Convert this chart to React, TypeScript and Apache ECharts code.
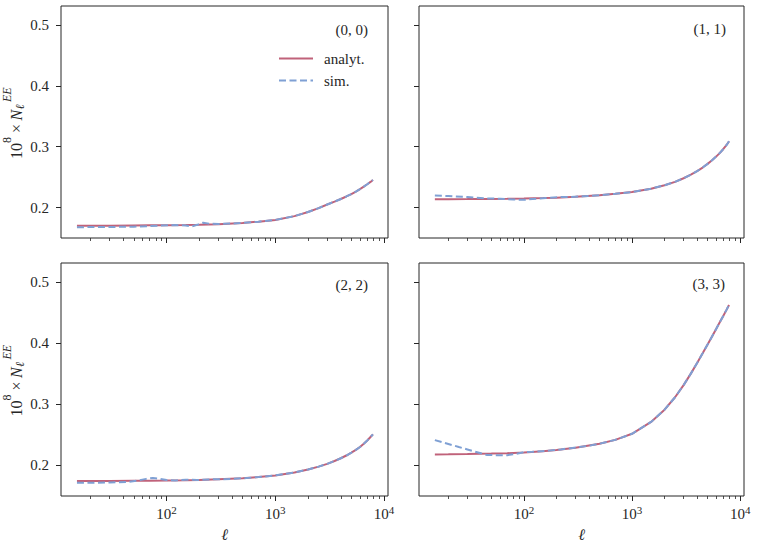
import React, { useEffect, useRef } from "react";
import * as echarts from "echarts";

// ---------- data ----------
const ELL = [15, 20, 30, 50, 70, 100, 150, 200, 300, 500, 700, 1000, 1500, 2000, 2500, 3000, 3500, 4000, 4500, 5000, 5500, 6000, 6500, 7000, 7500, 7900];

const ANALYT_00 = [0.17, 0.1701, 0.1703, 0.1706, 0.1708, 0.1711, 0.1714, 0.1718, 0.1727, 0.1748, 0.1768, 0.1797, 0.1859, 0.1928, 0.1991, 0.205, 0.2097, 0.2141, 0.2182, 0.2221, 0.2262, 0.2303, 0.2343, 0.2382, 0.2421, 0.2453];
const ANALYT_11 = [0.2136, 0.2137, 0.2139, 0.2142, 0.2145, 0.2149, 0.2156, 0.2163, 0.2176, 0.2203, 0.2225, 0.2254, 0.231, 0.2366, 0.2422, 0.2481, 0.254, 0.2598, 0.2657, 0.2717, 0.2776, 0.2837, 0.2898, 0.2962, 0.3028, 0.3088];
const ANALYT_22 = [0.1744, 0.1745, 0.1746, 0.1748, 0.175, 0.1753, 0.1758, 0.1763, 0.1772, 0.179, 0.1809, 0.1837, 0.1885, 0.1933, 0.198, 0.2026, 0.2072, 0.2117, 0.2162, 0.2208, 0.2254, 0.2301, 0.2354, 0.2408, 0.2465, 0.2508];
const ANALYT_33 = [0.218, 0.2182, 0.2186, 0.2193, 0.22, 0.2212, 0.2233, 0.2252, 0.2288, 0.2355, 0.2418, 0.2517, 0.2711, 0.2911, 0.3115, 0.3313, 0.3501, 0.3675, 0.3833, 0.3978, 0.4109, 0.4231, 0.4345, 0.4449, 0.4548, 0.4624];

// simulated spectra below l = 500 (above that they sit on the analytic curve)
const SIM_ELL_00 = [15, 20, 30, 50, 70, 90, 120, 150, 170, 195, 217, 245, 300, 400];
const SIM_00 = [0.1678, 0.1679, 0.1681, 0.1686, 0.1695, 0.1705, 0.1712, 0.1705, 0.169, 0.1722, 0.1752, 0.1736, 0.1729, 0.1738];
const SIM_ELL_11 = [15, 20, 30, 45, 60, 80, 100, 120, 160, 220, 270, 350, 400];
const SIM_11 = [0.2197, 0.219, 0.2172, 0.215, 0.2145, 0.2133, 0.2127, 0.214, 0.2158, 0.2172, 0.2174, 0.2184, 0.2189];
const SIM_ELL_22 = [15, 20, 30, 45, 55, 65, 75, 85, 100, 120, 150, 190, 250, 300, 400];
const SIM_22 = [0.1716, 0.1717, 0.172, 0.173, 0.1755, 0.178, 0.1795, 0.1785, 0.176, 0.1755, 0.1766, 0.1762, 0.1772, 0.1773, 0.1781];
const SIM_ELL_33 = [15, 20, 25, 30, 35, 40, 45, 55, 70, 85, 100, 120, 170, 220, 270, 320, 400];
const SIM_33 = [0.2414, 0.2351, 0.2301, 0.2261, 0.2227, 0.2198, 0.2172, 0.2168, 0.2168, 0.219, 0.2218, 0.2222, 0.2242, 0.2262, 0.2282, 0.2298, 0.2322];

const PANEL_LABELS = ["(0, 0)", "(1, 1)", "(2, 2)", "(3, 3)"];
const SERIES_NAMES = ["analyt.", "sim."];

const X_MAJOR = [100, 1000, 10000];
const X_MINOR = [20, 30, 40, 50, 60, 70, 80, 90, 200, 300, 400, 500, 600, 700, 800, 900, 2000, 3000, 4000, 5000, 6000, 7000, 8000, 9000];
const Y_TICKS = [0.2, 0.3, 0.4, 0.5];
const L_RANGE = [10.7, 10860];
const Y_RANGE = [0.15, 0.531];

// ---------- style ----------
const FONT = '"Liberation Serif", "DejaVu Serif", serif';
const INK = "#262626";
const ANALYT_COLOR = "#c0627a";
const SIM_COLOR = "#7fa0d4";

// [left, top, width, height]
const GRIDS = [
  [61, 6, 327, 232],
  [419, 6, 325, 232],
  [61, 263, 327, 233],
  [419, 263, 325, 233],
];
const LABEL_POS = [
  [368, 29.5],
  [726, 29],
  [368, 285],
  [725, 283.7],
];

const PANELS = [
  { analyt: ANALYT_00, simEll: SIM_ELL_00, sim: SIM_00 },
  { analyt: ANALYT_11, simEll: SIM_ELL_11, sim: SIM_11 },
  { analyt: ANALYT_22, simEll: SIM_ELL_22, sim: SIM_22 },
  { analyt: ANALYT_33, simEll: SIM_ELL_33, sim: SIM_33 },
];

function yLabel(cy: number) {
  const t = (text: string, x: number, y: number, size: number, italic: boolean) => ({
    type: "text",
    style: {
      text,
      x,
      y,
      fill: INK,
      font: `${italic ? "italic " : ""}${size}px ${FONT}`,
      textAlign: "left",
      textVerticalAlign: "middle",
    },
  });
  return {
    type: "group",
    x: 0,
    y: cy,
    rotation: Math.PI / 2,
    children: [
      t("10", -37, 16, 16, false),
      t("8", -21, 7, 12, false),
      t("\u00d7", -11, 16, 16, false),
      t("N", 1.5, 16, 16, true),
      t("\u2113", 12.5, 20, 12, true),
      t("EE", 20, 7, 12, true),
    ],
  };
}

export default function App() {
  const ref = useRef<HTMLDivElement>(null);
  useEffect(() => {
    document.body.style.margin = "0";
    if (!ref.current) return;
    const chart = echarts.init(ref.current, null, { renderer: "svg" });
    const lmin = Math.log10(L_RANGE[0]);
    const lmax = Math.log10(L_RANGE[1]);
    const major = X_MAJOR.map((v) => Math.log10(v));
    const minor = X_MINOR.map((v) => Math.log10(v));

    const xAxis: any[] = [];
    const yAxis: any[] = [];
    const series: any[] = [];
    GRIDS.forEach((_, i) => {
      const bottom = i >= 2;
      const left = i % 2 === 0;
      xAxis.push({
        type: "value",
        gridIndex: i,
        min: lmin,
        max: lmax,
        position: "bottom",
        axisLine: { show: false },
        splitLine: { show: false },
        axisTick: { show: true, inside: false, length: 5, customValues: major, lineStyle: { color: INK, width: 1 } },
        axisLabel: {
          show: bottom,
          customValues: major,
          margin: 8,
          formatter: (v: number) => `{b|10}{s|${Math.round(v)}}`,
          rich: {
            b: { fontFamily: FONT, fontSize: 15, color: INK, lineHeight: 20 },
            s: { fontFamily: FONT, fontSize: 11, color: INK, lineHeight: 10, verticalAlign: "top" },
          },
        },
        name: bottom ? "\u2113" : "",
        nameLocation: "middle",
        nameGap: 30,
        nameTextStyle: { fontFamily: FONT, fontSize: 16, fontStyle: "italic", color: INK },
      });
      xAxis.push({
        type: "value",
        gridIndex: i,
        min: lmin,
        max: lmax,
        position: "bottom",
        axisLine: { show: false },
        splitLine: { show: false },
        axisTick: { show: true, inside: false, length: 3, customValues: minor, lineStyle: { color: INK, width: 0.8 } },
        axisLabel: { show: false },
      });
      yAxis.push({
        type: "value",
        gridIndex: i,
        min: Y_RANGE[0],
        max: Y_RANGE[1],
        axisLine: { show: false },
        splitLine: { show: false },
        axisTick: { show: true, inside: false, length: 5, customValues: Y_TICKS, lineStyle: { color: INK, width: 1 } },
        axisLabel: {
          show: left,
          customValues: Y_TICKS,
          margin: 12,
          formatter: (v: number) => v.toFixed(1),
          fontFamily: FONT,
          fontSize: 15,
          color: INK,
        },
      });
      const p = PANELS[i];
      const analytData = ELL.map((l, k) => [Math.log10(l), p.analyt[k]]);
      const highPart = ELL.map((l, k) => [l, p.analyt[k]]).filter(([l]) => l >= 500).map(([l, v]) => [Math.log10(l), v]);
      const simData = p.simEll.map((l, k) => [Math.log10(l), p.sim[k]]).concat(highPart);
      series.push({
        type: "line",
        name: SERIES_NAMES[0],
        xAxisIndex: 2 * i,
        yAxisIndex: i,
        data: analytData,
        symbol: "none",
        showSymbol: false,
        lineStyle: { color: ANALYT_COLOR, width: 2 },
        itemStyle: { color: ANALYT_COLOR },
      });
      series.push({
        type: "line",
        name: SERIES_NAMES[1],
        xAxisIndex: 2 * i,
        yAxisIndex: i,
        data: simData,
        symbol: "none",
        showSymbol: false,
        lineStyle: { color: SIM_COLOR, width: 2, type: [7, 3.5] },
        itemStyle: { color: SIM_COLOR },
      });
    });

    const graphic: any[] = [];
    PANEL_LABELS.forEach((txt, i) => {
      graphic.push({
        type: "text",
        x: LABEL_POS[i][0],
        y: LABEL_POS[i][1],
        style: { text: txt, fill: INK, font: `15px ${FONT}`, textAlign: "right", textVerticalAlign: "middle" },
      });
    });
    graphic.push(yLabel(GRIDS[0][1] + GRIDS[0][3] / 2));
    graphic.push(yLabel(GRIDS[2][1] + GRIDS[2][3] / 2));

    chart.setOption({
      animation: false,
      backgroundColor: "#ffffff",
      textStyle: { fontFamily: FONT },
      grid: GRIDS.map((g) => ({
        left: g[0],
        top: g[1],
        width: g[2],
        height: g[3],
        show: true,
        borderColor: INK,
        borderWidth: 1,
        backgroundColor: "transparent",
        containLabel: false,
        outerBoundsMode: "none",
      })),
      legend: {
        data: SERIES_NAMES,
        orient: "vertical",
        left: 273,
        top: 46,
        itemWidth: 34,
        itemHeight: 14,
        itemGap: 7,
        itemStyle: { opacity: 0 },
        textStyle: { fontFamily: FONT, fontSize: 15, color: INK, padding: [0, 0, 0, 6] },
      },
      xAxis,
      yAxis,
      series,
      graphic,
    });
    return () => chart.dispose();
  }, []);
  return <div ref={ref} style={{ width: "759px", height: "547px" }} />;
}
